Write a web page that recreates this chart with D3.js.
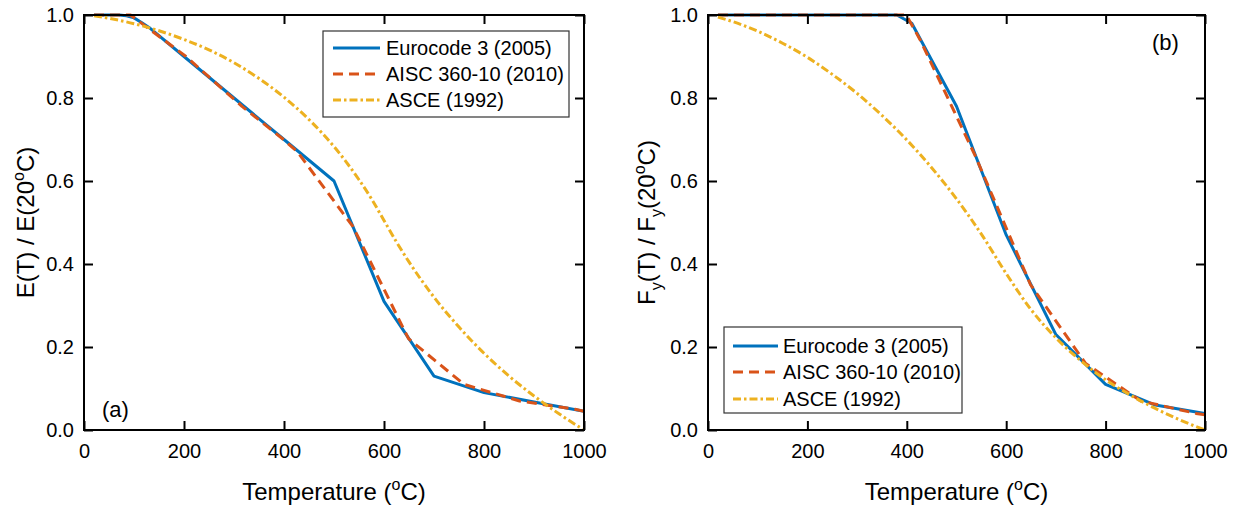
<!DOCTYPE html>
<html><head><meta charset="utf-8">
<script src="https://cdn.jsdelivr.net/npm/d3@7"></script>
<style>
html,body{margin:0;padding:0;background:#fff;}
svg text{font-family:"Liberation Sans",Arial,Helvetica,sans-serif;fill:#000;}
</style></head>
<body><svg id="chart" width="1239" height="506"></svg>
<script>
// ---------- data ----------
const xTicks = [0, 200, 400, 600, 800, 1000];
const yTicks = [0, 0.2, 0.4, 0.6, 0.8, 1.0];
const seriesNames = ["Eurocode 3 (2005)", "AISC 360-10 (2010)", "ASCE (1992)"];

// (a) elastic modulus ratio
const euroE_T = [20, 70, 85, 100, 115, 130, 200, 300, 400, 500, 600, 700, 800, 900, 1000];
const euroE_V = [1.0, 1.0, 0.998, 0.993, 0.982, 0.97, 0.9, 0.8, 0.7, 0.6, 0.31, 0.13, 0.09, 0.0675, 0.045];
const aiscE_T = [20, 93, 204, 316, 399, 427, 538, 649, 760, 871, 982, 1000];
const aiscE_V = [1.0, 1.0, 0.9, 0.78, 0.70, 0.67, 0.49, 0.22, 0.11, 0.07, 0.05, 0.045];
const asceE_T = [20, 50, 100, 150, 200, 250, 300, 350, 400, 450, 475, 500, 525, 550, 575, 600, 625, 650, 700, 750, 800, 850, 900, 950, 1000];
const asceE_V = [0.998, 0.992, 0.979, 0.962, 0.941, 0.916, 0.885, 0.847, 0.802, 0.748, 0.717, 0.683, 0.645, 0.603, 0.557, 0.505, 0.453, 0.405, 0.320, 0.248, 0.185, 0.130, 0.082, 0.039, 0.0];

// (b) yield strength ratio
const euroF_T = [20, 380, 410, 500, 600, 700, 800, 900, 1000];
const euroF_V = [1.0, 1.0, 0.98, 0.78, 0.47, 0.23, 0.11, 0.06, 0.04];
const aiscF_T = [20, 93, 204, 316, 399, 427, 538, 649, 760, 871, 982, 1000];
const aiscF_V = [1.0, 1.0, 1.0, 1.0, 1.0, 0.94, 0.66, 0.35, 0.16, 0.07, 0.04, 0.037];
const asceF_T = [20, 50, 100, 150, 200, 250, 300, 350, 400, 450, 500, 550, 600, 650, 700, 750, 800, 850, 900, 950, 1000];
const asceF_V = [0.995, 0.984, 0.961, 0.932, 0.898, 0.857, 0.811, 0.758, 0.699, 0.632, 0.557, 0.472, 0.377, 0.290, 0.222, 0.167, 0.121, 0.084, 0.052, 0.024, 0.0];

// ---------- style ----------
const colors = ["#0072BD", "#D95319", "#EDB120"];
const dashes = [null, "10,6", "8,3,2.5,3"];
const LW = 3;
const FS = 20;
const TFS = 24;
const SFS = 16;

const svg = d3.select("#chart");

function zip(T, V){ return T.map((t,i)=>({t:t, v:V[i]})); }

function panel(opt){
  const x = d3.scaleLinear().domain([0,1000]).range([opt.x0, opt.x1]);
  const y = d3.scaleLinear().domain([0,1]).range([opt.y1, opt.y0]);
  const g = svg.append("g");

  const clipId = "clip" + opt.id;
  g.append("clipPath").attr("id", clipId).append("rect")
    .attr("x", opt.x0).attr("y", opt.y0 - 3).attr("width", opt.x1 - opt.x0).attr("height", opt.y1 - opt.y0 + 3);

  const line = d3.line().x(d=>x(d.t)).y(d=>y(d.v));
  const curveLine = d3.line().x(d=>x(d.t)).y(d=>y(d.v)).curve(d3.curveMonotoneX);
  const lg = g.append("g").attr("clip-path", `url(#${clipId})`);
  [0, 1, 2].forEach(i=>{
    const gen = (i === 2) ? curveLine : line;
    lg.append("path").datum(opt.series[i])
      .attr("d", gen).attr("fill", "none")
      .attr("stroke", colors[i]).attr("stroke-width", LW)
      .attr("stroke-dasharray", dashes[i]).attr("stroke-linejoin", "round");
  });

  const tl = 9;
  const axB = g.append("g").attr("transform", `translate(0,${opt.y1})`)
    .call(d3.axisBottom(x).tickValues(xTicks).tickSize(-tl).tickPadding(14).tickFormat(d3.format("d")));
  const axT = g.append("g").attr("transform", `translate(0,${opt.y0})`)
    .call(d3.axisTop(x).tickValues(xTicks).tickSize(-tl).tickFormat(""));
  const axL = g.append("g").attr("transform", `translate(${opt.x0},0)`)
    .call(d3.axisLeft(y).tickValues(yTicks).tickSize(-tl).tickPadding(10).tickFormat(d3.format(".1f")));
  const axR = g.append("g").attr("transform", `translate(${opt.x1},0)`)
    .call(d3.axisRight(y).tickValues(yTicks).tickSize(-tl).tickFormat(""));
  [axB, axT, axL, axR].forEach(a=>{
    a.selectAll(".domain").remove();
    a.selectAll(".tick line").attr("stroke", "#000").attr("stroke-width", 2);
    a.selectAll("text").attr("font-size", FS).attr("font-family", '"Liberation Sans",Arial,sans-serif').attr("fill", "#000");
  });
  g.append("rect").attr("x", opt.x0).attr("y", opt.y0).attr("width", opt.x1 - opt.x0).attr("height", opt.y1 - opt.y0)
    .attr("fill", "none").attr("stroke", "#000").attr("stroke-width", 2);

  const xt = g.append("text").attr("x", (opt.x0 + opt.x1)/2).attr("y", 500).attr("text-anchor", "middle").attr("font-size", TFS);
  xt.append("tspan").text("Temperature (");
  xt.append("tspan").attr("dy", -10).attr("font-size", SFS).text("o");
  xt.append("tspan").attr("dy", 10).text("C)");

  const yt = g.append("text").attr("transform", `translate(${opt.yTitleX},${(opt.y0 + opt.y1)/2}) rotate(-90)`)
    .attr("text-anchor", "middle").attr("font-size", TFS);
  opt.yTitle.forEach(p=>{
    const ts = yt.append("tspan").text(p.s);
    if (p.dy) ts.attr("dy", p.dy);
    if (p.fs) ts.attr("font-size", p.fs);
  });

  g.append("text").attr("x", opt.lab[0]).attr("y", opt.lab[1]).attr("font-size", 22).text(opt.label);

  const L = opt.legend;
  g.append("rect").attr("x", L.x).attr("y", L.y).attr("width", L.w).attr("height", L.h)
    .attr("fill", "#fff").attr("stroke", "#333").attr("stroke-width", 1.2);
  seriesNames.forEach((n, i)=>{
    const yy = L.rows[i];
    g.append("line").attr("x1", L.l0).attr("x2", L.l1).attr("y1", yy).attr("y2", yy)
      .attr("stroke", colors[i]).attr("stroke-width", LW).attr("stroke-dasharray", dashes[i]);
    g.append("text").attr("x", L.tx).attr("y", yy).attr("dy", "0.35em").attr("font-size", FS).text(n);
  });
}

panel({
  id: "a", x0: 84, x1: 584, y0: 15, y1: 430,
  series: [zip(euroE_T, euroE_V), zip(aiscE_T, aiscE_V), zip(asceE_T, asceE_V)],
  yTitleX: 34,
  yTitle: [{s:"E(T) / E(20"}, {s:"o", dy:-10, fs:SFS}, {s:"C)", dy:10}],
  label: "(a)", lab: [102, 417],
  legend: {x: 323, y: 31, w: 246, h: 86, l0: 333, l1: 380, tx: 386, rows: [48, 74, 100]}
});

panel({
  id: "b", x0: 708, x1: 1205, y0: 15, y1: 430,
  series: [zip(euroF_T, euroF_V), zip(aiscF_T, aiscF_V), zip(asceF_T, asceF_V)],
  yTitleX: 655,
  yTitle: [{s:"F"}, {s:"y", dy:7, fs:SFS}, {s:"(T) / F", dy:-7}, {s:"y", dy:7, fs:SFS}, {s:"(20", dy:-7}, {s:"o", dy:-10, fs:SFS}, {s:"C)", dy:10}],
  label: "(b)", lab: [1152, 50],
  legend: {x: 724, y: 327, w: 238, h: 86, l0: 733, l1: 778, tx: 783, rows: [346, 372, 399]}
});
</script></body></html>
